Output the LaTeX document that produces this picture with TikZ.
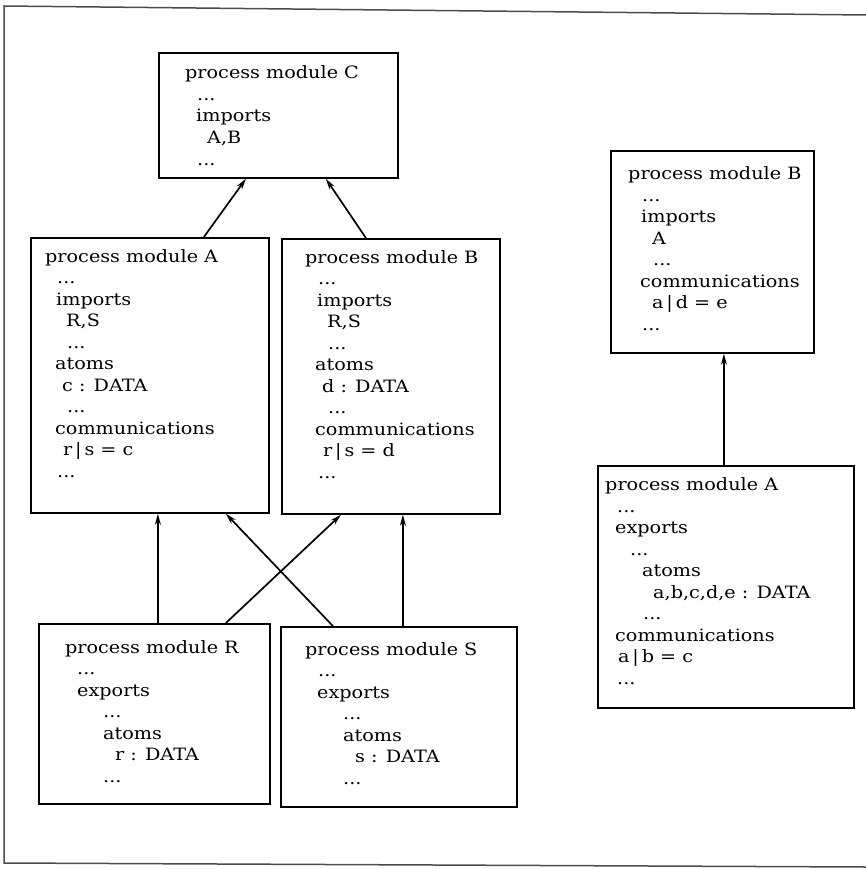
\documentclass[tikz,border=0pt]{standalone}
\usepackage{fontspec}
\setmainfont{DejaVu Serif}[FakeStretch=1.13]
\usetikzlibrary{arrows.meta}
\tikzset{
  modbox/.style={draw=black, line width=1.8pt, rectangle, inner sep=0pt, anchor=north west},
  modtxt/.style={anchor=base west, inner sep=0pt, align=left, font=\fontsize{17}{21.5}\selectfont},
  arr/.style={-{Stealth[length=11pt,width=6pt]}, line width=1.7pt},
  frame/.style={draw=black!70, line width=1.5pt},
}
\begin{document}
\begin{tikzpicture}[x=1pt,y=-1pt]
\useasboundingbox (0,0) rectangle (866,869);
% outer frame
\coordinate (f1) at (866,15);
\coordinate (f2) at (4,6);
\coordinate (f3) at (4,863);
\coordinate (f4) at (866,867);
\draw[frame] (f1) -- (f2) -- (f3) -- (f4);

% boxes
\node[modbox, minimum width=239pt, minimum height=125pt] (C) at (158,52) {};
\node[modbox, minimum width=238pt, minimum height=275pt] (A) at (30,237) {};
\node[modbox, minimum width=218pt, minimum height=275pt] (B) at (281,238) {};
\node[modbox, minimum width=231pt, minimum height=180pt] (R) at (38,623) {};
\node[modbox, minimum width=236pt, minimum height=180pt] (S) at (280,626) {};
\node[modbox, minimum width=203pt, minimum height=202pt] (RB) at (610,150) {};
\node[modbox, minimum width=256pt, minimum height=242pt] (RA) at (597,465) {};

% texts (anchored at the baseline of their last line)
\node[modtxt] (Ct) at (185,165) {process module C\\
\hspace*{12pt}...\\
\hspace*{11pt}imports\\
\hspace*{22pt}A,B\\
\hspace*{12pt}...};

\node[modtxt] (At) at (45,477) {process module A\\
\hspace*{12pt}...\\
\hspace*{11pt}imports\\
\hspace*{21pt}R,S\\
\hspace*{22pt}...\\
\hspace*{10pt}atoms\\
\hspace*{17pt}c : DATA\\
\hspace*{22pt}...\\
\hspace*{10pt}communications\\
\hspace*{18pt}r\,|\,s = c\\
\hspace*{12pt}...};

\node[modtxt] (Bt) at (305,478) {process module B\\
\hspace*{13pt}...\\
\hspace*{12pt}imports\\
\hspace*{22pt}R,S\\
\hspace*{23pt}...\\
\hspace*{10pt}atoms\\
\hspace*{17pt}d : DATA\\
\hspace*{23pt}...\\
\hspace*{10pt}communications\\
\hspace*{18pt}r\,|\,s = d\\
\hspace*{13pt}...};

\node[modtxt] (RBt) at (628,330) {process module B\\
\hspace*{14pt}...\\
\hspace*{13pt}imports\\
\hspace*{24pt}A\\
\hspace*{25pt}...\\
\hspace*{12pt}communications\\
\hspace*{24pt}a\,|\,d = e\\
\hspace*{14pt}...};

\node[modtxt] (RAt) at (605,684) {process module A\\
\hspace*{12pt}...\\
\hspace*{10pt}exports\\
\hspace*{25pt}...\\
\hspace*{37pt}atoms\\
\hspace*{48pt}a,b,c,d,e : DATA\\
\hspace*{38pt}...\\
\hspace*{10pt}communications\\
\hspace*{13pt}a\,|\,b = c\\
\hspace*{12pt}...};

\node[modtxt] (Rt) at (65,782) {process module R\\
\hspace*{12pt}...\\
\hspace*{12pt}exports\\
\hspace*{38pt}...\\
\hspace*{38pt}atoms\\
\hspace*{50pt}r : DATA\\
\hspace*{38pt}...};

\node[modtxt] (St) at (305,784) {process module S\\
\hspace*{13pt}...\\
\hspace*{12pt}exports\\
\hspace*{38pt}...\\
\hspace*{38pt}atoms\\
\hspace*{50pt}s : DATA\\
\hspace*{38pt}...};

% connectors
\draw[arr] ([xshift=54pt]A.north) -- ([xshift=-32.5pt]C.south);
\draw[arr] ([xshift=-25pt]B.north) -- ([xshift=47.5pt]C.south);
\draw[arr] ([xshift=3.5pt]R.north) -- ([xshift=8pt]A.south);
\draw[arr] ([xshift=-66pt]S.north) -- ([xshift=76pt]A.south);
\draw[arr] ([xshift=71.5pt]R.north) -- ([xshift=-50pt]B.south);
\draw[arr] ([xshift=4pt]S.north) -- ([xshift=12pt]B.south);
\draw[arr] ([xshift=-2pt]RA.north) -- ([xshift=11.5pt]RB.south);
\end{tikzpicture}
\end{document}
